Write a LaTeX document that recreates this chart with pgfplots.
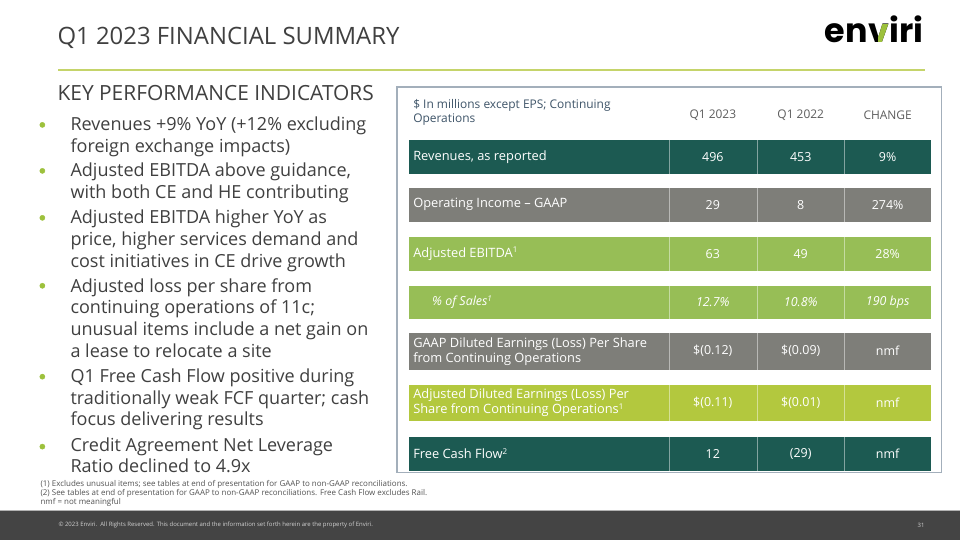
\documentclass[border=0pt]{standalone}
\usepackage{pgfplots}
\pgfplotsset{compat=1.18}
\usepackage{fontspec}
\setmainfont{Open Sans}
\newfontfamily\logofont{Poppins}
\definecolor{cTeal}{HTML}{1C5A52}
\definecolor{cGray}{HTML}{7E7E79}
\definecolor{cGreen}{HTML}{97BE56}
\definecolor{cLime}{HTML}{B3C83E}
\definecolor{cRule}{HTML}{C5D46A}
\definecolor{cBullet}{HTML}{9DC13C}
\definecolor{cText}{HTML}{404040}
\definecolor{cHead}{HTML}{3E5468}
\definecolor{cBox}{HTML}{A3AFBB}
\definecolor{cFoot}{HTML}{444444}
\newcommand{\sups}[1]{\raisebox{0.33em}{\fontsize{8}{9}\selectfont #1}}
\begin{document}
\begin{tikzpicture}
\begin{axis}[scale only axis, width=960bp, height=540bp,
  xmin=0, xmax=960, ymin=0, ymax=540, y dir=reverse,
  axis lines=none, clip=false]
% background
\addplot[fill=white, draw=none] coordinates {(0,0) (960,0) (960,540) (0,540)} -- cycle;
% title rule
\addplot[cRule, line width=2bp] coordinates {(58,70) (925,70)};
% footer bar
\addplot[fill=cFoot, draw=none] coordinates {(0,511) (960,511) (960,540) (0,540)} -- cycle;
\addplot[gray!60, line width=0.8bp] coordinates {(0,511) (960,511)};
% table box
\addplot[draw=cBox, line width=1.3bp] coordinates {(397,87) (942,87) (942,473) (397,473)} -- cycle;
% rows
\addplot[fill=cTeal, draw=none] coordinates {(409,140) (931,140) (931,174) (409,174)} -- cycle;
\addplot[fill=cGray, draw=none] coordinates {(409,188) (931,188) (931,222) (409,222)} -- cycle;
\addplot[fill=cGreen, draw=none] coordinates {(409,237) (931,237) (931,271) (409,271)} -- cycle;
\addplot[fill=cGreen, draw=none] coordinates {(409,286) (931,286) (931,319) (409,319)} -- cycle;
\addplot[fill=cGray, draw=none] coordinates {(409,333) (931,333) (931,370) (409,370)} -- cycle;
\addplot[fill=cLime, draw=none] coordinates {(409,385) (931,385) (931,421) (409,421)} -- cycle;
\addplot[fill=cTeal, draw=none] coordinates {(409,437) (931,437) (931,471) (409,471)} -- cycle;
% cell dividers
\foreach \a/\b in {140/174,188/222,237/271,286/319,333/370,385/421,437/471}{
  \edef\tmp{\noexpand\addplot[white, opacity=0.45, line width=0.7bp] coordinates {(669,\a) (669,\b)};
  \noexpand\addplot[white, opacity=0.45, line width=0.7bp] coordinates {(757.5,\a) (757.5,\b)};
  \noexpand\addplot[white, opacity=0.45, line width=0.7bp] coordinates {(845,\a) (845,\b)};}
  \tmp
}
% title
\node[anchor=west, text=cText, font=\fontsize{24}{28}\selectfont, inner sep=0] at (axis cs:57,38) {Q1 2023 FINANCIAL SUMMARY};
\coordinate (logo) at (axis cs:825,43);
% KPI heading
\node[anchor=west, text=cText, font=\fontsize{21}{24}\selectfont, inner sep=0] at (axis cs:57,93) {KEY PERFORMANCE INDICATORS};
% bullets
\foreach \y in {125,171,218,286,377,447}{
  \edef\tmp{\noexpand\addplot[only marks, mark=*, mark size=2.6bp, cBullet] coordinates {(42,\y)};}
  \tmp
}
\tikzset{bl/.style={anchor=base west, text=cText, font=\fontsize{18.1}{20}\selectfont, inner sep=0}}
\node[bl] at (axis cs:70,131) {Revenues +9\% YoY (+12\% excluding};
\node[bl] at (axis cs:70,152.5) {foreign exchange impacts)};
\node[bl] at (axis cs:70,177) {Adjusted EBITDA above guidance,};
\node[bl] at (axis cs:70,199) {with both CE and HE contributing};
\node[bl] at (axis cs:70,224) {Adjusted EBITDA higher YoY as};
\node[bl] at (axis cs:70,246) {price, higher services demand and};
\node[bl] at (axis cs:70,267.5) {cost initiatives in CE drive growth};
\node[bl] at (axis cs:70,292.5) {Adjusted loss per share from};
\node[bl] at (axis cs:70,314) {continuing operations of 11c;};
\node[bl] at (axis cs:70,336) {unusual items include a net gain on};
\node[bl] at (axis cs:70,357.5) {a lease to relocate a site};
\node[bl] at (axis cs:70,383) {Q1 Free Cash Flow positive during};
\node[bl] at (axis cs:70,404.5) {traditionally weak FCF quarter; cash};
\node[bl] at (axis cs:70,426) {focus delivering results};
\node[bl] at (axis cs:70,452) {Credit Agreement Net Leverage};
\node[bl] at (axis cs:70,473) {Ratio declined to 4.9x};
% table header
\node[anchor=north west, align=left, text=cHead, font=\fontsize{12}{14}\selectfont, inner sep=0] at (axis cs:413,99.5) {\$ In millions except EPS; Continuing\\Operations};
\node[text=cText!85, font=\fontsize{12}{13}\selectfont] at (axis cs:713,115.5) {Q1 2023};
\node[text=cText!85, font=\fontsize{12}{13}\selectfont] at (axis cs:801,115.5) {Q1 2022};
\node[text=cText!85, font=\fontsize{12}{13}\selectfont] at (axis cs:888,115.5) {CHANGE};
% row labels and values
\tikzset{lbl/.style={anchor=west, text=white, align=left, inner sep=0, font=\fontsize{12.9}{15}\selectfont},
         val/.style={text=white, inner sep=0, font=\fontsize{12.5}{15}\selectfont}}
\node[lbl] at (axis cs:413,157) {Revenues, as reported};
\node[val] at (axis cs:713,157) {496};
\node[val] at (axis cs:801,157) {453};
\node[val] at (axis cs:888,157) {9\%};
\node[lbl] at (axis cs:413,205) {Operating Income -- GAAP};
\node[val] at (axis cs:713,205) {29};
\node[val] at (axis cs:801,205) {8};
\node[val] at (axis cs:888,205) {274\%};
\node[lbl] at (axis cs:413,254) {Adjusted EBITDA\sups{1}};
\node[val] at (axis cs:713,254) {63};
\node[val] at (axis cs:801,254) {49};
\node[val] at (axis cs:888,254) {28\%};
\node[lbl, font=\fontsize{12.5}{15}\selectfont\itshape] at (axis cs:432,302.5) {\% of Sales\sups{1}};
\node[val, font=\fontsize{12.5}{15}\selectfont\itshape] at (axis cs:713,302.5) {12.7\%};
\node[val, font=\fontsize{12.5}{15}\selectfont\itshape] at (axis cs:801,302.5) {10.8\%};
\node[val, font=\fontsize{12.5}{15}\selectfont\itshape] at (axis cs:888,302.5) {190 bps};
\node[lbl] at (axis cs:413,351.5) {GAAP Diluted Earnings (Loss) Per Share\\from Continuing Operations};
\node[val] at (axis cs:713,351.5) {\$(0.12)};
\node[val] at (axis cs:801,351.5) {\$(0.09)};
\node[val] at (axis cs:888,351.5) {nmf};
\node[lbl] at (axis cs:413,403) {Adjusted Diluted Earnings (Loss) Per\\Share from Continuing Operations\sups{1}};
\node[val] at (axis cs:713,403) {\$(0.11)};
\node[val] at (axis cs:801,403) {\$(0.01)};
\node[val] at (axis cs:888,403) {nmf};
\node[lbl] at (axis cs:413,454) {Free Cash Flow\sups{2}};
\node[val] at (axis cs:713,454) {12};
\node[val] at (axis cs:801,454) {(29)};
\node[val] at (axis cs:888,454) {nmf};
% footnotes
\node[anchor=north west, align=left, text=cText!90, font=\fontsize{8}{8.6}\selectfont, inner sep=0] at (axis cs:40,481) {(1) Excludes unusual items; see tables at end of presentation for GAAP to non-GAAP reconciliations.\\(2) See tables at end of presentation for GAAP to non-GAAP reconciliations. Free Cash Flow excludes Rail.\\nmf = not meaningful};
% footer text
\node[anchor=west, text=gray!35, font=\fontsize{6}{7}\selectfont, inner sep=0] at (axis cs:58,525.5) {\textcopyright{} 2023 Enviri.\ \ All Rights Reserved. This document and the information set forth herein are the property of Enviri.};
\node[anchor=east, text=gray!35, font=\fontsize{6}{7}\selectfont, inner sep=0] at (axis cs:925,525.5) {31};
\end{axis}
% logo
\tikzset{lg/.style={anchor=base west, font=\logofont\fontsize{33.5}{36}\selectfont\bfseries, inner sep=0}}
\node[lg] (en) at (logo) {en};
\node[lg] (v) at (en.base east) {v};
\begin{scope}
\clip (v.south) rectangle (v.north east);
\node[lg, text=cBullet] at (en.base east) {v};
\end{scope}
\node[lg] at (v.base east) {iri};
\end{tikzpicture}
\end{document}
